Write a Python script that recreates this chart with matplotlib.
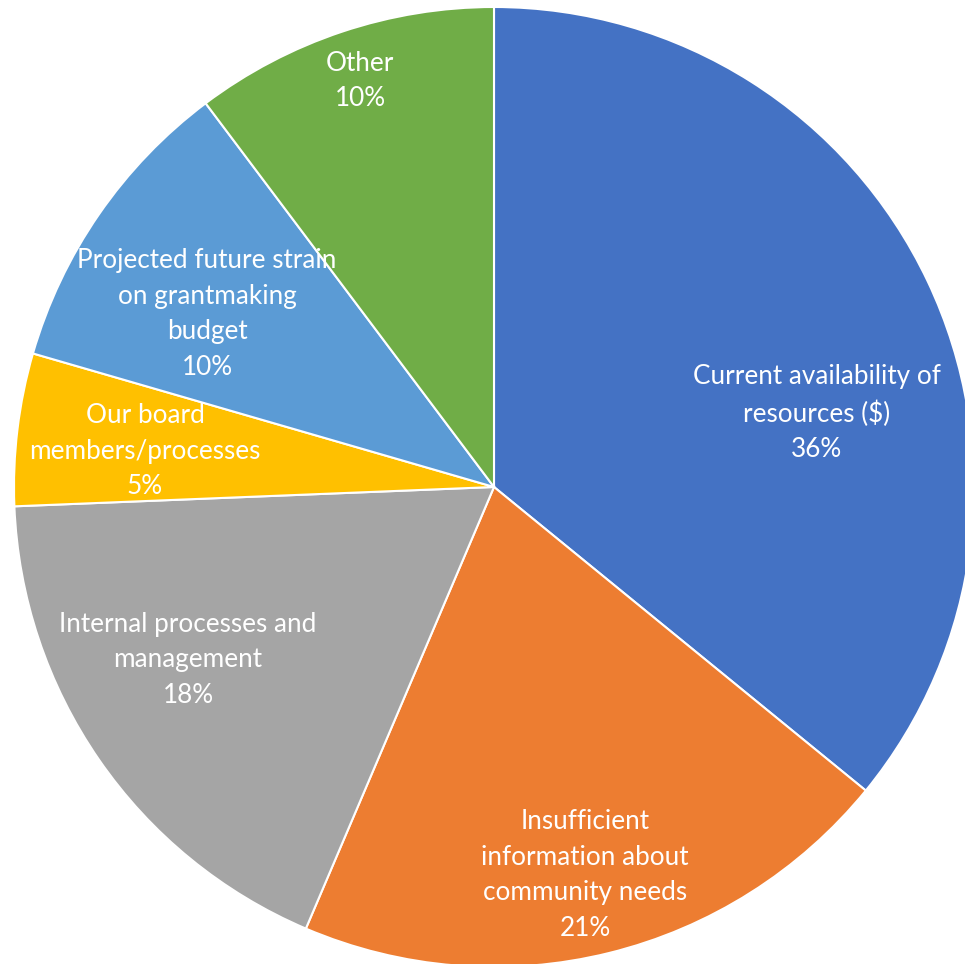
import matplotlib.pyplot as plt

# survey responses (counts) - clockwise from 12 o'clock
categories = ["Current availability of\nresources ($)",
              "Insufficient\ninformation about\ncommunity needs",
              "Internal processes and\nmanagement",
              "Our board\nmembers/processes",
              "Projected future strain\non grantmaking\nbudget",
              "Other"]
counts = [14, 8, 7, 2, 4, 4]
colors = ["#4472C4", "#ED7D31", "#A5A5A5", "#FFC000", "#5B9BD5", "#70AD47"]

# label centre positions (pixel coords, y from top) - Excel "best fit" placement
label_pos = [(817, 413), (585, 875), (188, 660), (145, 451), (207, 314), (360, 81)]

fig = plt.figure(figsize=(9.65, 9.64), dpi=100)
ax = fig.add_axes([0, 0, 1, 1])

cx, cy, r = 494, 964 - 487, 480
ax.pie(counts, colors=colors, startangle=90, counterclock=False,
       center=(cx, cy), radius=r,
       wedgeprops=dict(edgecolor="white", linewidth=1.5))

# pie() resets the limits, so set them afterwards
ax.set_xlim(0, 965)
ax.set_ylim(0, 964)
ax.set_aspect("equal")
ax.axis("off")

total = sum(counts)
for cat, n, (x, y) in zip(categories, counts, label_pos):
    pct = 100.0 * n / total
    txt = cat + "\n%.0f%%" % pct
    ax.text(x, 964 - y, txt, ha="center", va="center", color="white",
            fontsize=18.8, family="Lato", linespacing=1.52)

fig.savefig("out.png", dpi=100)
